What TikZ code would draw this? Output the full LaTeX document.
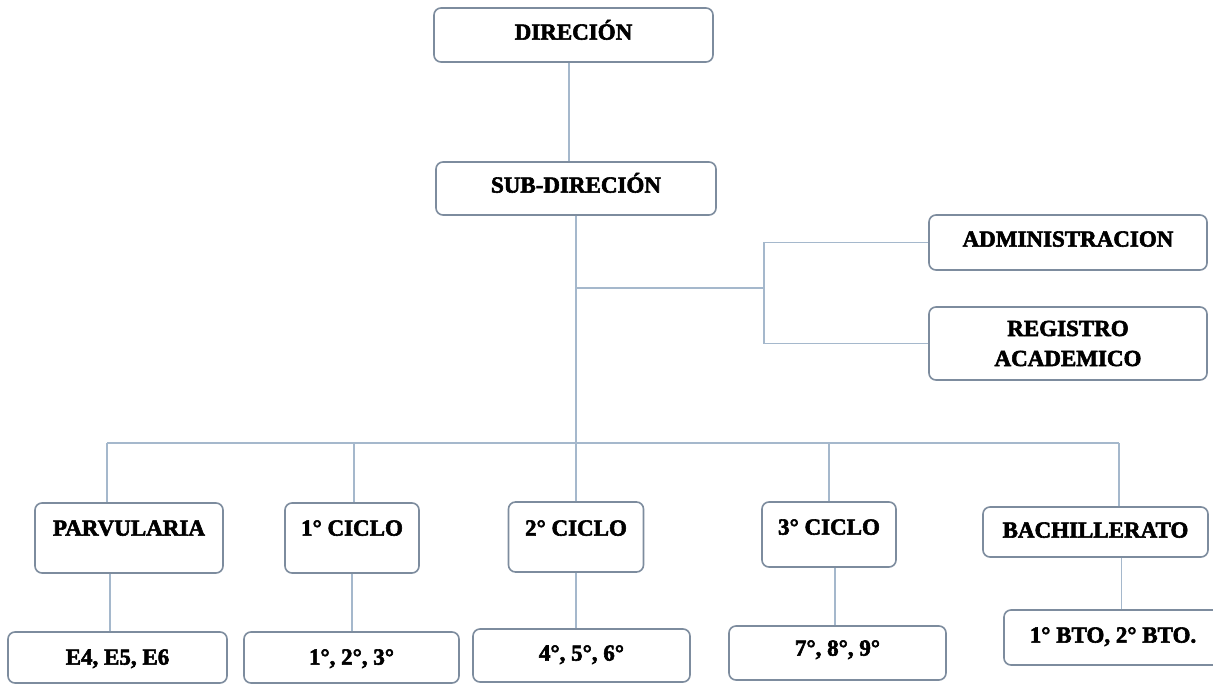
\documentclass[tikz,border=0pt]{standalone}
\usepackage{fontspec}
\newfontfamily\heavy{Liberation Serif Bold}[FakeBold=2.5]
\definecolor{boxline}{RGB}{125,140,158}
\definecolor{conline}{RGB}{165,184,204}
\tikzset{
  box/.style={draw=boxline, line width=1.6pt, rounded corners=7pt, fill=white,
    inner sep=0pt, font=\heavy\fontsize{23}{30}\selectfont, align=center},
  tx/.style={text height=16pt, text depth=#1},
  con/.style={draw=conline, line width=1.6pt}
}
\begin{document}
\begin{tikzpicture}[x=1pt,y=-1pt]
\useasboundingbox (0,0) rectangle (1213,686);
\clip (0,0) rectangle (1213,686);
\fill[white] (0,0) rectangle (1213,686);
% boxes
\node[box, tx=6.8pt, minimum width=279pt, minimum height=54pt] (dir) at (573.5,35) {DIRECIÓN};
\node[box, tx=7.8pt, minimum width=280pt, minimum height=53pt] (sub) at (576,188.5) {SUB-DIRECIÓN};
\node[box, tx=7.8pt, minimum width=278pt, minimum height=55pt] (adm) at (1068,242.5) {ADMINISTRACION};
\node[box, minimum width=278pt, minimum height=73pt] (reg) at (1068,343.5) {REGISTRO\\ACADEMICO};
\node[box, tx=20.8pt, minimum width=188pt, minimum height=70pt] (parv) at (129,538) {PARVULARIA};
\node[box, tx=20.8pt, minimum width=134pt, minimum height=70pt] (c1) at (352,538) {1° CICLO};
\node[box, tx=18.8pt, minimum width=135pt, minimum height=70pt] (c2) at (576,537) {2° CICLO};
\node[box, tx=15.8pt, minimum width=134pt, minimum height=65pt] (c3) at (829,534.5) {3° CICLO};
\node[box, tx=4.8pt, minimum width=225pt, minimum height=50pt] (bach) at (1095.5,532) {BACHILLERATO};
\node[box, tx=1.8pt, minimum width=219pt, minimum height=51pt] (e4) at (117.5,657.5) {E4, E5, E6};
\node[box, tx=1.8pt, minimum width=215pt, minimum height=51pt] (g1) at (351.5,657.5) {1°, 2°, 3°};
\node[box, tx=5.8pt, minimum width=217pt, minimum height=53pt] (g2) at (581.5,655.5) {4°, 5°, 6°};
\node[box, tx=10.8pt, minimum width=217pt, minimum height=54pt] (g3) at (837.5,653) {7°, 8°, 9°};
\node[box, tx=5.8pt, minimum width=218pt, minimum height=55pt] (bto) at (1113,637.5) {1° BTO, 2° BTO.};
% junction coordinates
\coordinate (sj) at (764,288);
\coordinate (busL) at (107,443);
\coordinate (busR) at (1119,443);
% connectors
\draw[con] ([xshift=-4.5pt]dir.south) -- ([xshift=-4.5pt]dir.south |- sub.north);
\draw[con] (sub.south) -- (c2.north);
\draw[con] (sub.south |- sj) -- (sj);
\draw[con] (adm.west) -| (sj) |- (reg.west);
\draw[con] (busL) -- (busR);
\draw[con] (busL) -- (busL |- parv.north);
\draw[con] (busR) -- (busR |- bach.north);
\draw[con] ([xshift=2pt]c1.north) -- ([xshift=2pt]c1.north |- busL);
\draw[con] (c3.north) -- (c3.north |- busL);
\draw[con] ([xshift=-19pt]parv.south) -- ([xshift=-19pt]parv.south |- e4.north);
\draw[con] (c1.south) -- (c1.south |- g1.north);
\draw[con] (c2.south) -- (c2.south |- g2.north);
\draw[con] ([xshift=6pt]c3.south) -- ([xshift=6pt]c3.south |- g3.north);
\draw[con] ([xshift=26pt]bach.south) -- ([xshift=26pt]bach.south |- bto.north);
\end{tikzpicture}
\end{document}
